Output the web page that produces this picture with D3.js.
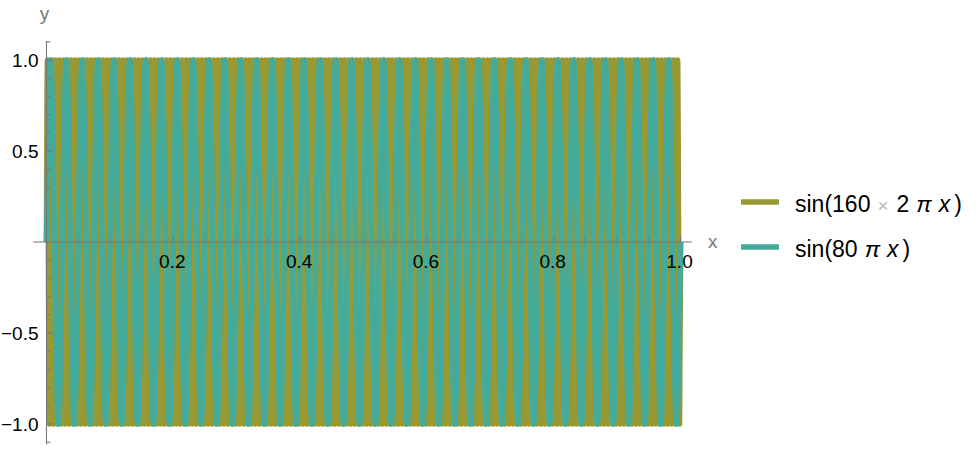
<!DOCTYPE html>
<html><head><meta charset="utf-8">
<script src="https://cdn.jsdelivr.net/npm/d3@7"></script>
<style>body{margin:0;background:#fff}</style>
</head><body><svg id="c" width="978" height="452"></svg>
<script>
// ---- data ----
const seriesLabels = ["sin(160 × 2 π x)", "sin(80 π x)"];
const seriesColors = ["#999933", "#44aa99"];
// olive series: x of maxima (+1) and minima (-1), in units of 1/640 of the x range
const oliveUnit = 640;
const olivePeakX = [
1,5,9,13,17,21,25,29,33,37,
41,45,49,53,57,61,65,69,73,77,
81,85,89,93,97,101,105,109,113,117,
121,125,129,133,137,141,145,149,153,157,
161,165,169,173,177,181,185,189,193,197,
201,205,209,213,217,221,225,229,233,237,
241,245,249,253,257,261,265,269,273,277,
281,285,289,293,297,301,305,309,313,317,
321,325,329,333,337,341,345,349,353,357,
361,365,369,373,377,381,385,389,393,397,
401,405,409,413,417,421,425,429,433,437,
441,445,449,453,457,461,465,469,473,477,
481,485,489,493,497,501,505,509,513,517,
521,525,529,533,537,541,545,549,553,557,
561,565,569,573,577,581,585,589,593,597,
601,605,609,613,617,621,625,629,633,637];
const oliveTroughX = [
3,7,11,15,19,23,27,31,35,39,
43,47,51,55,59,63,67,71,75,79,
83,87,91,95,99,103,107,111,115,119,
123,127,131,135,139,143,147,151,155,159,
163,167,171,175,179,183,187,191,195,199,
203,207,211,215,219,223,227,231,235,239,
243,247,251,255,259,263,267,271,275,279,
283,287,291,295,299,303,307,311,315,319,
323,327,331,335,339,343,347,351,355,359,
363,367,371,375,379,383,387,391,395,399,
403,407,411,415,419,423,427,431,435,439,
443,447,451,455,459,463,467,471,475,479,
483,487,491,495,499,503,507,511,515,519,
523,527,531,535,539,543,547,551,555,559,
563,567,571,575,579,583,587,591,595,599,
603,607,611,615,619,623,627,631,635,639];
// teal series: x of maxima and minima, in units of 1/160 of the x range
const tealUnit = 160;
const tealPeakX = [
1,5,9,13,17,21,25,29,33,37,
41,45,49,53,57,61,65,69,73,77,
81,85,89,93,97,101,105,109,113,117,
121,125,129,133,137,141,145,149,153,157];
const tealTroughX = [
3,7,11,15,19,23,27,31,35,39,
43,47,51,55,59,63,67,71,75,79,
83,87,91,95,99,103,107,111,115,119,
123,127,131,135,139,143,147,151,155,159];
const seriesEnds = [[0, 0], [1, 0]];
const peakValue = 1, troughValue = -1;

const xMajorTicks = [0.2, 0.4, 0.6, 0.8, 1.0];
const xMinorTicks = [0.05,0.1,0.15,0.25,0.3,0.35,0.45,0.5,0.55,0.65,0.7,0.75,0.85,0.9,0.95];
const yMajorTicks = [-1.0, -0.5, 0.5, 1.0];
const yMinorTicks = [-1.1,-0.9,-0.8,-0.7,-0.6,-0.4,-0.3,-0.2,-0.1,0.1,0.2,0.3,0.4,0.6,0.7,0.8,0.9,1.1];
const xAxisRange = [-0.021, 1.018];
const yAxisRange = [-1.112, 1.104];

// ---- drawing ----
const svg = d3.select("#c");
svg.append("rect").attr("width", 978).attr("height", 452).attr("fill", "#fff");
const x = d3.scaleLinear().domain([0, 1]).range([46.5, 680.5]);
const y = d3.scaleLinear().domain([-1, 1]).range([424, 60]);

function buildSeries(peaks, troughs, unit) {
  const pts = [seriesEnds[0]]
    .concat(peaks.map(p => [p / unit, peakValue]))
    .concat(troughs.map(t => [t / unit, troughValue]))
    .concat([seriesEnds[1]]);
  return pts.sort((a, b) => a[0] - b[0]);
}
const series = [
  buildSeries(olivePeakX, oliveTroughX, oliveUnit),
  buildSeries(tealPeakX, tealTroughX, tealUnit)
];
const line = d3.line().x(d => x(d[0])).y(d => y(d[1])).curve(d3.curveMonotoneX);
series.forEach((s, i) => {
  svg.append("path").attr("d", line(s)).attr("fill", "none")
    .attr("stroke", seriesColors[i]).attr("stroke-width", 5.6)
    .attr("stroke-linejoin", "round").attr("stroke-linecap", "butt");
});

const axisColor = "#777";
const ax = svg.append("g").attr("stroke", axisColor).attr("stroke-width", 1.1);
ax.append("line").attr("x1", x(xAxisRange[0])).attr("x2", x(xAxisRange[1]))
  .attr("y1", y(0)).attr("y2", y(0));
ax.append("line").attr("x1", x(0)).attr("x2", x(0))
  .attr("y1", y(yAxisRange[0])).attr("y2", y(yAxisRange[1]));
xMajorTicks.forEach(v => ax.append("line").attr("x1", x(v)).attr("x2", x(v)).attr("y1", y(0)).attr("y2", y(0) - 6.5));
xMinorTicks.forEach(v => ax.append("line").attr("x1", x(v)).attr("x2", x(v)).attr("y1", y(0)).attr("y2", y(0) - 3.8));
yMajorTicks.forEach(v => ax.append("line").attr("y1", y(v)).attr("y2", y(v)).attr("x1", x(0)).attr("x2", x(0) + 6.5));
yMinorTicks.forEach(v => ax.append("line").attr("y1", y(v)).attr("y2", y(v)).attr("x1", x(0)).attr("x2", x(0) + 3.8));

const fmt = v => d3.format(".1f")(v).replace("-", "\u2212");
const font = "'Liberation Sans', Arial, sans-serif";
const lab = svg.append("g").attr("font-family", font).attr("font-size", 19).attr("fill", "#000");
xMajorTicks.forEach(v => lab.append("text").attr("x", x(v) - 1).attr("y", y(0) + 26)
  .attr("text-anchor", "middle").text(fmt(v)));
yMajorTicks.forEach(v => lab.append("text").attr("x", x(0) - 8).attr("y", y(v) + 7)
  .attr("text-anchor", "end").text(fmt(v)));

svg.append("text").attr("x", x(0) - 2).attr("y", 20).attr("text-anchor", "middle")
  .attr("font-family", font).attr("font-size", 19).attr("fill", "#777").text("y");
svg.append("text").attr("x", x(xAxisRange[1]) + 16).attr("y", y(0) + 6).attr("text-anchor", "start")
  .attr("font-family", font).attr("font-size", 19).attr("fill", "#777").text("x");

// legend
const legY = [202, 247];
const legend = svg.append("g").attr("font-family", font).attr("font-size", 23).attr("fill", "#000");
const legendParts = [
  [{t: "sin(160"}, {t: "×", dx: 7, fill: "#b8b8b8", size: 19}, {t: "2", dx: 8}, {t: "π", dx: 7, it: true}, {t: "x", dx: 7, it: true}, {t: ")", dx: 4}],
  [{t: "sin(80"}, {t: "π", dx: 7, it: true}, {t: "x", dx: 7, it: true}, {t: ")", dx: 4}]
];
seriesLabels.forEach((lbl, i) => {
  legend.append("line").attr("x1", 741).attr("x2", 779).attr("y1", legY[i]).attr("y2", legY[i])
    .attr("stroke", seriesColors[i]).attr("stroke-width", 5.7);
  const t = legend.append("text").attr("x", 795).attr("y", legY[i] + 10);
  t.append("title").text(lbl);
  legendParts[i].forEach(p => {
    const ts = t.append("tspan").text(p.t);
    if (p.dx) ts.attr("dx", p.dx);
    if (p.fill) ts.attr("fill", p.fill);
    if (p.size) ts.attr("font-size", p.size);
    if (p.it) ts.attr("font-style", "italic");
  });
});
</script></body></html>
